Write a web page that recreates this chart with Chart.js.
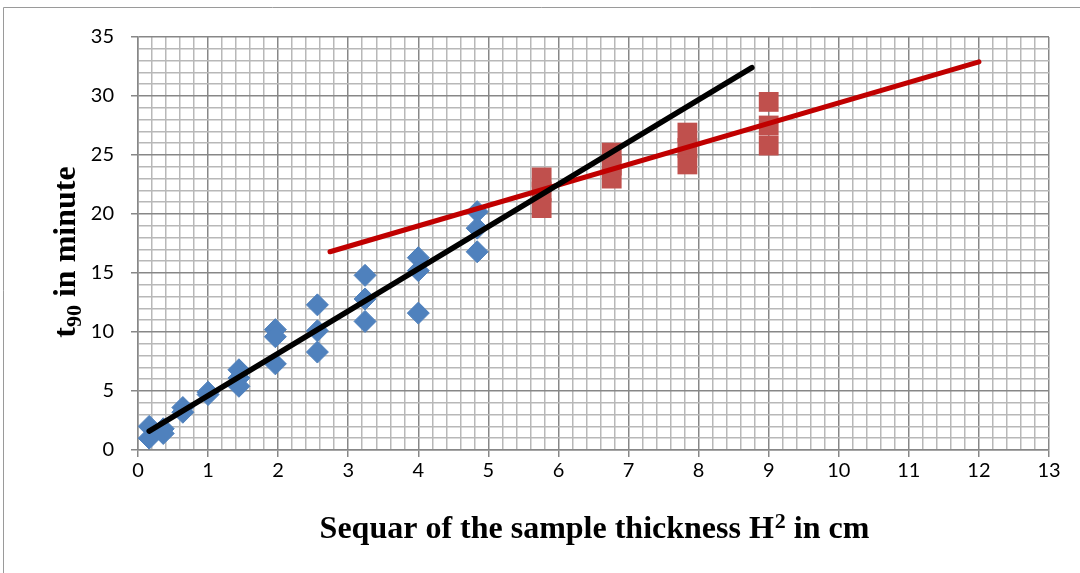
<!DOCTYPE html>
<html>
<head>
<meta charset="utf-8">
<script src="https://cdn.jsdelivr.net/npm/chart.js@4.4.0/dist/chart.umd.min.js"></script>
<style>
  body { margin: 0; background: #fff; }
  #wrap { width: 1080px; height: 573px; }
</style>
</head>
<body>
<div id="wrap"><canvas id="t90Chart" width="1080" height="573"></canvas></div>
<script>
// measured points (H^2 in cm, t90 in minute)
const blueX = [0.16, 0.16, 0.36, 0.36, 0.64, 0.64, 1, 1, 1.44, 1.44, 1.44,
    1.96, 1.96, 1.96, 2.56, 2.56, 2.56, 3.24, 3.24, 3.24, 4, 4, 4, 4.84, 4.84, 4.84];
const blueY = [2.0, 1.0, 1.8, 1.4, 3.6, 3.2, 4.9, 4.7, 6.8, 6.1, 5.4,
    10.2, 9.6, 7.3, 12.3, 10.1, 8.3, 14.8, 12.8, 10.9, 16.3, 15.2, 11.6, 20.2, 18.8, 16.8];

const redX = [5.76, 5.76, 5.76, 6.76, 6.76, 6.76, 7.84, 7.84, 7.84, 9, 9, 9];
const redY = [23.1, 21.9, 20.5, 25.2, 24.1, 23.0, 26.9, 25.6, 24.2, 29.5, 27.5, 25.8];

// fitted lines, two end points each
const blackLineX = [0.16, 8.76];
const blackLineY = [1.6, 32.4];
const redLineX = [2.74, 12.0];
const redLineY = [16.8, 32.9];

const xTicks = [0, 1, 2, 3, 4, 5, 6, 7, 8, 9, 10, 11, 12, 13];
const yTicks = [0, 5, 10, 15, 20, 25, 30, 35];

const toPoints = (xs, ys) => xs.map((x, i) => ({ x: x, y: ys[i] }));

const isMajor = (v, list) => list.some(t => Math.abs(t - v) < 1e-6);

const gridMinor = '#B8B8B8';
const gridMajor = '#878787';

// axis titles with sub/superscript, plus the outer frame
const titlesPlugin = {
    id: 'titles',
    beforeDraw(chart) {
        const ctx = chart.ctx;
        ctx.save();
        ctx.fillStyle = '#fff';
        ctx.fillRect(0, 0, chart.width, chart.height);
        ctx.strokeStyle = '#9A9A9A';
        ctx.lineWidth = 1;
        ctx.beginPath();
        ctx.moveTo(3.5, chart.height);
        ctx.lineTo(3.5, 7.5);
        ctx.lineTo(chart.width, 7.5);
        ctx.stroke();
        ctx.restore();
    },
    afterDraw(chart) {
        const ctx = chart.ctx;
        const big = 'bold 32px "Liberation Serif"';
        const small = 'bold 22px "Liberation Serif"';
        ctx.save();
        ctx.fillStyle = '#000';
        ctx.textBaseline = 'alphabetic';

        // x title
        let a = 'Sequar of the sample thickness H', b = '2', c = ' in cm';
        ctx.font = big;
        let wa = ctx.measureText(a).width, wc = ctx.measureText(c).width;
        ctx.font = small;
        let wb = ctx.measureText(b).width;
        let x = 594 - (wa + wb + wc) / 2, y = 538;
        ctx.font = big; ctx.fillText(a, x, y);
        ctx.font = small; ctx.fillText(b, x + wa + 1, y - 10);
        ctx.font = big; ctx.fillText(c, x + wa + wb + 1, y);

        // y title, rotated
        ctx.translate(75, 252);
        ctx.rotate(-Math.PI / 2);
        a = 't'; b = '90'; c = ' in minute';
        ctx.font = big;
        wa = ctx.measureText(a).width; wc = ctx.measureText(c).width;
        ctx.font = small;
        wb = ctx.measureText(b).width;
        x = -(wa + wb + wc) / 2;
        ctx.font = big; ctx.fillText(a, x, 0);
        ctx.font = small; ctx.fillText(b, x + wa, 6);
        ctx.font = big; ctx.fillText(c, x + wa + wb, 0);
        ctx.restore();
    }
};

new Chart('t90Chart', {
    type: 'scatter',
    data: {
        datasets: [
            {
                label: 'black fit',
                data: toPoints(blackLineX, blackLineY),
                showLine: true,
                borderColor: '#000',
                borderWidth: 5.5,
                borderCapStyle: 'round',
                pointRadius: 0,
                order: 0
            },
            {
                label: 'red fit',
                data: toPoints(redLineX, redLineY),
                showLine: true,
                borderColor: '#C00000',
                borderWidth: 5,
                borderCapStyle: 'round',
                pointRadius: 0,
                order: 1
            },
            {
                label: 'thin samples',
                data: toPoints(blueX, blueY),
                pointStyle: 'rectRot',
                pointRadius: 11,
                backgroundColor: '#4F81BD',
                borderColor: '#4F81BD',
                borderWidth: 1,
                order: 2
            },
            {
                label: 'thick samples',
                data: toPoints(redX, redY),
                pointStyle: 'rect',
                pointRadius: 14,
                backgroundColor: '#C0504D',
                borderColor: '#C0504D',
                borderWidth: 0,
                order: 3
            }
        ]
    },
    options: {
        responsive: false,
        animation: false,
        layout: { padding: { left: 0, top: 37, right: 31, bottom: 0 } },
        plugins: {
            legend: { display: false },
            tooltip: { enabled: false }
        },
        scales: {
            x: {
                type: 'linear',
                min: 0,
                max: 13,
                ticks: {
                    stepSize: 0.2,
                    autoSkip: false,
                    maxRotation: 0,
                    padding: 2,
                    color: '#000',
                    font: { family: 'Lato', size: 20 },
                    callback: v => isMajor(v, xTicks) ? String(Math.round(v)) : ''
                },
                grid: {
                    color: c => isMajor(c.tick.value, xTicks) ? gridMajor : gridMinor,
                    lineWidth: 1.5,
                    tickLength: 7,
                    tickColor: c => isMajor(c.tick.value, xTicks) ? gridMajor : 'rgba(0,0,0,0)'
                },
                border: { color: gridMajor, width: 1.5 },
                afterFit: s => { s.height = 123; }
            },
            y: {
                type: 'linear',
                min: 0,
                max: 35,
                ticks: {
                    stepSize: 1,
                    autoSkip: false,
                    padding: 17,
                    color: '#000',
                    font: { family: 'Lato', size: 20 },
                    callback: v => isMajor(v, yTicks) ? String(Math.round(v)) : ''
                },
                grid: {
                    color: c => isMajor(c.tick.value, yTicks) ? gridMajor : gridMinor,
                    lineWidth: 1.5,
                    tickLength: 7,
                    tickColor: c => isMajor(c.tick.value, yTicks) ? gridMajor : 'rgba(0,0,0,0)'
                },
                border: { color: gridMajor, width: 1.5 },
                afterFit: s => { s.width = 138; }
            }
        }
    },
    plugins: [titlesPlugin]
});
</script>
</body>
</html>
